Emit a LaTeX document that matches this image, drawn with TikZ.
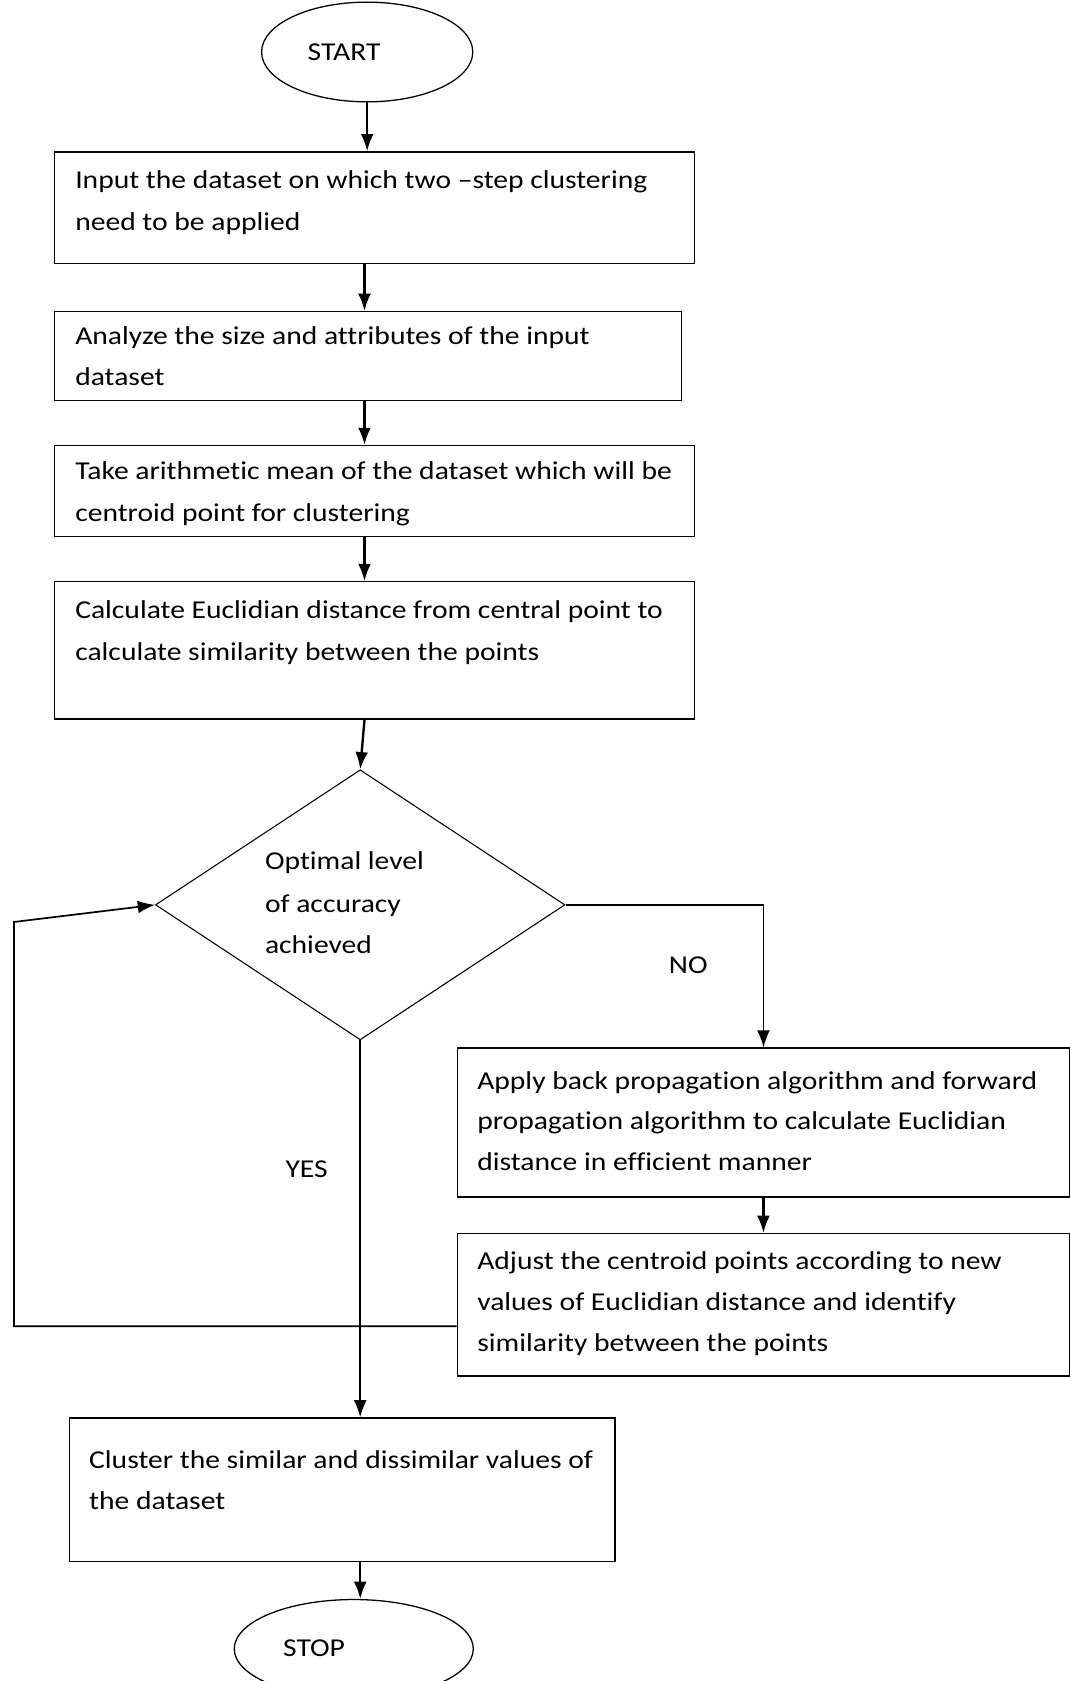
\documentclass[tikz,border=0pt]{standalone}
\usepackage{fontspec}
\setmainfont{Carlito}[FakeStretch=1.15,Ligatures=NoCommon]
\usetikzlibrary{shapes.geometric,arrows.meta}
\begin{document}
\begin{tikzpicture}[x=1pt,y=-1pt,
 box/.style={draw, line width=1.3pt, inner sep=0pt, anchor=north west},
 oval/.style={ellipse, draw, line width=1.2pt, inner sep=0pt},
 txt/.style={anchor=base west, inner sep=0pt, font=\fontsize{24}{39}\selectfont},
 ctxt/.style={anchor=base, inner sep=0pt, font=\fontsize{24}{39}\selectfont},
 arr/.style={line width=2.2pt, -{Latex[length=16pt,width=12pt]}},
 ln/.style={line width=2.2pt}]
\useasboundingbox (0,0) rectangle (998,1568);
\coordinate (axis) at (340,0);
% start
\node[oval, minimum width=197pt, minimum height=93pt] (start) at (342.5,48.5) {};
\node[ctxt] (tstart) at (321,56) {START};
% box 1
\node[box, minimum width=597pt, minimum height=104pt] (b1) at (50,141) {};
\node[txt] (t1a) at (70,176) {Input the dataset on which two –step clustering};
\node[txt] (t1b) at (70,215) {need to be applied};
% box 2
\node[box, minimum width=585pt, minimum height=83pt] (b2) at (50,290) {};
\node[txt] (t2a) at (70,321) {Analyze the size and attributes of the input};
\node[txt] (t2b) at (70,360) {dataset};
% box 3
\node[box, minimum width=597pt, minimum height=85pt] (b3) at (50,415) {};
\node[txt] (t3a) at (70,447) {Take arithmetic mean of the dataset which will be};
\node[txt] (t3b) at (70,486) {centroid point for clustering};
% box 4
\node[box, minimum width=597pt, minimum height=128pt] (b4) at (50,542) {};
\node[txt] (t4a) at (70,577) {Calculate Euclidian distance from central point to};
\node[txt] (t4b) at (70,616) {calculate similarity between the points};
% diamond
\node[diamond, draw, line width=1pt, inner sep=0pt, minimum width=382pt, minimum height=252pt] (dia) at (336,844) {};
\node[txt] (tda) at (247,811) {Optimal level};
\node[txt] (tdb) at (247,851) {of accuracy};
\node[txt] (tdc) at (247,889) {achieved};
% box 5
\node[box, minimum width=571pt, minimum height=139pt] (b5) at (426,977) {};
\node[txt] (t5a) at (445,1016) {Apply back propagation algorithm and forward};
\node[txt] (t5b) at (445,1054) {propagation algorithm to calculate Euclidian};
\node[txt] (t5c) at (445,1092) {distance in efficient manner};
% box 6
\node[box, minimum width=571pt, minimum height=133pt] (b6) at (426,1150) {};
\node[txt] (t6a) at (445,1184) {Adjust the centroid points according to new};
\node[txt] (t6b) at (445,1222) {values of Euclidian distance and identify};
\node[txt] (t6c) at (445,1261) {similarity between the points};
% box 7
\node[box, minimum width=509pt, minimum height=134pt] (b7) at (64,1322) {};
\node[txt] (t7a) at (83,1370) {Cluster the similar and dissimilar values of};
\node[txt] (t7b) at (83,1408) {the dataset};
% stop
\node[oval, minimum width=223pt, minimum height=92pt] (stop) at (330,1538) {};
\node[ctxt] (tstop) at (293,1545) {STOP};
% labels
\node[ctxt] (lno) at (642,908) {NO};
\node[ctxt] (lyes) at (286,1098) {YES};
% connectors
\draw[arr] (start.south) -- (start.south |- b1.north);
\draw[arr] (b1.south -| axis) -- (b2.north -| axis);
\draw[arr] (b2.south -| axis) -- (b3.north -| axis);
\draw[arr] (b3.south -| axis) -- (b4.north -| axis);
\draw[arr] (b4.south -| axis) -- (dia.north);
\draw[arr, line width=1.6pt] (dia.east) -| (b5.north);
\draw[arr] (b5.south) -- (b6.north);
\coordinate (fbA) at (13,1237);
\coordinate (fbB) at (13,860);
\draw[arr, line width=1.6pt] (b6.west |- fbA) -- (fbA) -- (fbB) -- (dia.west);
\draw[arr, line width=1.6pt] (dia.south) -- (dia.south |- b7.north);
\draw[arr] (dia.south |- b7.south) -- (dia.south |- stop.north);
\end{tikzpicture}
\end{document}
